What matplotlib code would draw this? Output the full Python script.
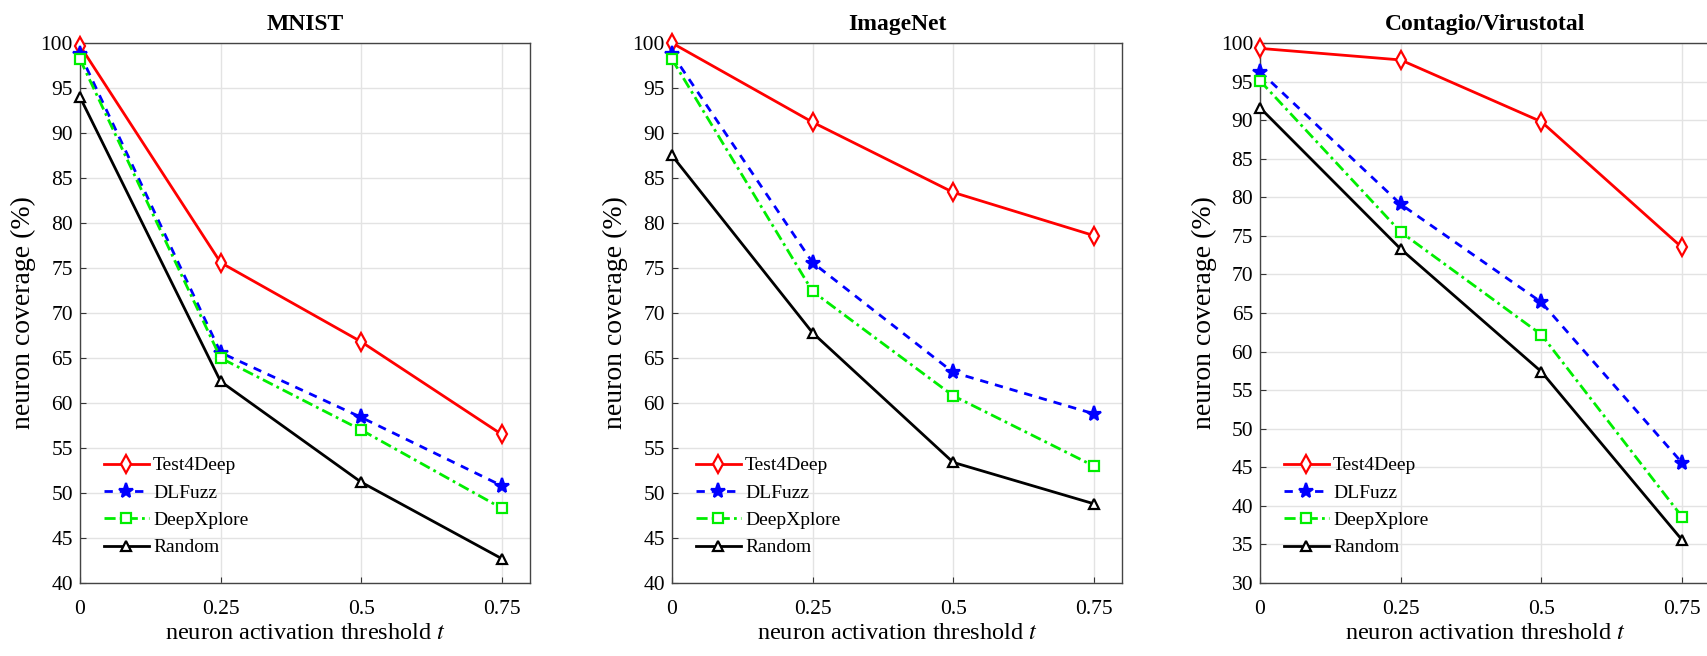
import matplotlib
matplotlib.use("Agg")
import matplotlib.pyplot as plt
import numpy as np

plt.rcParams['font.family'] = ['Liberation Serif', 'DejaVu Serif']
plt.rcParams['mathtext.fontset'] = 'stix'

# data
thresholds = [0, 0.25, 0.5, 0.75]
tick_labels = ["0", "0.25", "0.5", "0.75"]
methods = ["Test4Deep", "DLFuzz", "DeepXplore", "Random"]
titles = ["MNIST", "ImageNet", "Contagio/Virustotal"]

mnist_test4deep = [99.7, 75.6, 66.8, 56.5]
mnist_dlfuzz = [98.8, 65.6, 58.4, 50.8]
mnist_deepxplore = [98.2, 65.0, 57.0, 48.3]
mnist_random = [94.0, 62.4, 51.2, 42.7]

imagenet_test4deep = [100.0, 91.2, 83.4, 78.6]
imagenet_dlfuzz = [98.8, 75.6, 63.4, 58.8]
imagenet_deepxplore = [98.2, 72.4, 60.8, 53.0]
imagenet_random = [87.5, 67.8, 53.4, 48.8]

contagio_test4deep = [99.3, 97.8, 89.8, 73.5]
contagio_dlfuzz = [96.3, 79.1, 66.4, 45.6]
contagio_deepxplore = [95.1, 75.5, 62.2, 38.6]
contagio_random = [91.6, 73.3, 57.4, 35.6]

ylows = [40, 40, 30]

# colour, line style, marker, marker size, filled?
styles = {
    "Test4Deep": ("#ff0000", "-", "d", 9, False),
    "DLFuzz": ("#0000ff", (0, (3, 2.5)), "*", 11, True),
    "DeepXplore": ("#00ee00", (0, (4, 1.5, 1, 1.5)), "s", 6.5, False),
    "Random": ("#000000", "-", "^", 7.5, False),
}

all_data = [
    [mnist_test4deep, mnist_dlfuzz, mnist_deepxplore, mnist_random],
    [imagenet_test4deep, imagenet_dlfuzz, imagenet_deepxplore, imagenet_random],
    [contagio_test4deep, contagio_dlfuzz, contagio_deepxplore, contagio_random],
]

fig = plt.figure(figsize=(17.08, 6.56), dpi=100)
lefts = [0.0468, 0.3934, 0.7377]
for k in range(3):
    ax = fig.add_axes([lefts[k], 0.1113, 0.2635, 0.8232])
    for name, vals in zip(methods, all_data[k]):
        c, ls, mk, ms, filled = styles[name]
        ax.plot(thresholds, vals, color=c, linestyle=ls, linewidth=2.0,
                marker=mk, markersize=ms,
                markerfacecolor=c if filled else "white",
                markeredgecolor=c, markeredgewidth=1.6, label=name,
                clip_on=False, zorder=3)
    ax.set_xlim(0, 0.8)
    ax.set_ylim(ylows[k], 100)
    ax.set_xticks(thresholds)
    ax.set_xticklabels(tick_labels)
    ax.set_yticks(np.arange(ylows[k], 101, 5))
    ax.tick_params(direction="in", labelsize=15.5, length=4, color="#333333")
    ax.tick_params(axis="x", pad=12)
    ax.tick_params(axis="y", pad=5)
    ax.grid(True, color="#e3e3e3", linewidth=1.0)
    ax.set_axisbelow(True)
    for sp in ax.spines.values():
        sp.set_color("#444444")
        sp.set_linewidth(1.0)
    ax.set_title(titles[k], fontsize=17, fontweight="bold", pad=9)
    ax.set_xlabel("neuron activation threshold $t$", fontsize=17.5, labelpad=3)
    ax.set_ylabel("neuron coverage (%)", fontsize=20, labelpad=3)
    ax.legend(loc="lower left", bbox_to_anchor=(0.036, 0.035), frameon=False,
              fontsize=14, handlelength=2.3, handletextpad=0.22,
              labelspacing=0.5, borderaxespad=0.0)

fig.savefig("out.png", dpi=100)
